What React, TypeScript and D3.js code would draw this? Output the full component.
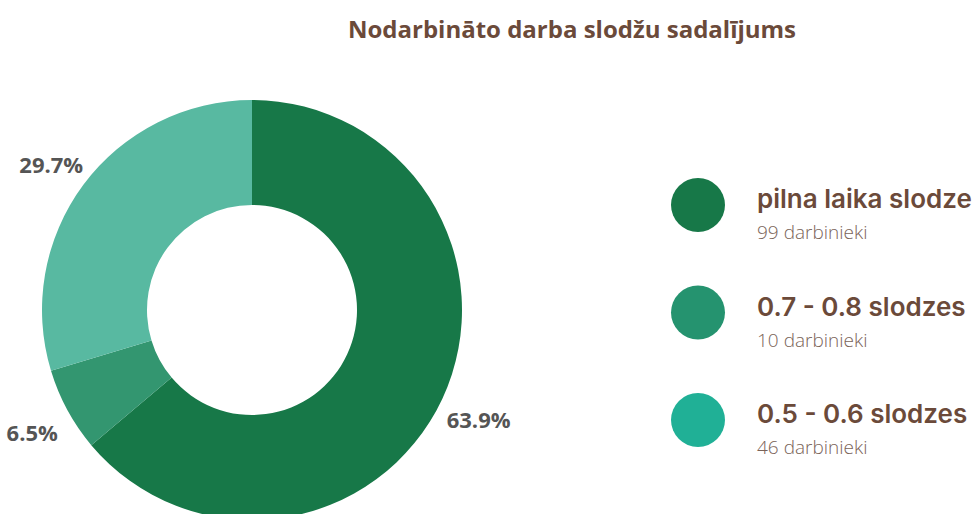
import { useMemo } from "react";
import * as d3 from "d3";

const categories = ["pilna laika slodze", "0.7 - 0.8 slodzes", "0.5 - 0.6 slodzes"];
const employees = [99, 10, 46];
const subLabels = ["99 darbinieki", "10 darbinieki", "46 darbinieki"];
const sliceColors = ["#177848", "#339670", "#58B9A1"];
const legendColors = ["#177848", "#25936F", "#20B096"];

const W = 974;
const H = 514;
const cx = 252;
const cy = 310;
const outerR = 210;
const innerR = 105;
const labelR = 250;

export default function App() {
  const total = d3.sum(employees);

  const arcs = useMemo(() => {
    const pie = d3
      .pie<number>()
      .value((d) => d)
      .sort(null);
    return pie(employees);
  }, []);

  const arcGen = d3
    .arc<d3.PieArcDatum<number>>()
    .innerRadius(innerR)
    .outerRadius(outerR);

  const labelArc = d3
    .arc<d3.PieArcDatum<number>>()
    .innerRadius(labelR)
    .outerRadius(labelR);

  const legendY = d3
    .scalePoint<number>()
    .domain(d3.range(categories.length))
    .range([205, 420]);

  return (
    <div style={{ position: "absolute", left: 0, top: 0 }}>
      <svg width={W} height={H} style={{ display: "block", background: "#fff" }}>
        <text
          x={572}
          y={38}
          textAnchor="middle"
          fontFamily="'Open Sans', sans-serif"
          fontWeight={700}
          fontSize={24}
          fill="#6B4A3A"
        >
          Nodarbināto darba slodžu sadalījums
        </text>

        <g transform={`translate(${cx},${cy})`}>
          {arcs.map((a, i) => (
            <path key={i} d={arcGen(a) ?? ""} fill={sliceColors[i]} />
          ))}
          {arcs.map((a, i) => {
            const [x, y] = labelArc.centroid(a);
            return (
              <text
                key={"l" + i}
                x={x}
                y={y + 3}
                textAnchor="middle"
                dominantBaseline="central"
                fontFamily="'Open Sans', sans-serif"
                fontWeight={700}
                fontSize={22}
                fill="#555555"
              >
                {d3.format(".1f")((employees[i] / total) * 100)}%
              </text>
            );
          })}
        </g>

        {categories.map((c, i) => {
          const y = legendY(i) ?? 0;
          return (
            <g key={c}>
              <circle cx={698} cy={y} r={27} fill={legendColors[i]} />
              <text
                x={757}
                y={y + 3}
                fontFamily="Inter, sans-serif"
                fontWeight={600}
                fontSize={26}
                fill="#6B4A3A"
              >
                {c}
              </text>
              <text
                x={757}
                y={y + 34}
                fontFamily="'Open Sans', sans-serif"
                fontWeight={300}
                fontSize={19}
                fill="#7A6358"
              >
                {subLabels[i]}
              </text>
            </g>
          );
        })}
      </svg>
    </div>
  );
}
